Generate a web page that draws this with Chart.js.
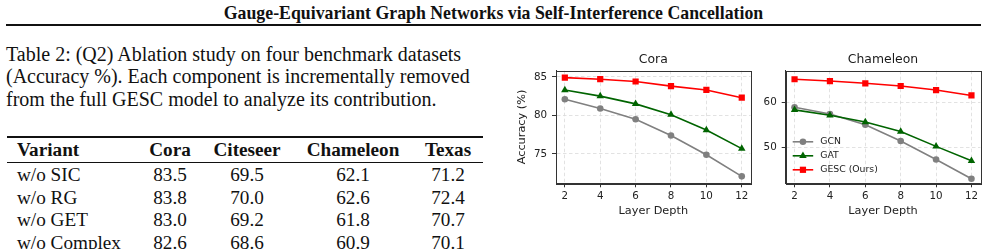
<!DOCTYPE html>
<html>
<head>
<meta charset="utf-8">
<script src="https://cdn.jsdelivr.net/npm/chart.js@4.4.1/dist/chart.umd.min.js"></script>
<style>
  html, body { margin: 0; padding: 0; background: #fff; }
  body { width: 987px; height: 249px; overflow: hidden; position: relative; font-family: "Liberation Serif", "DejaVu Serif", serif; color: #111; }
  .abs { position: absolute; white-space: nowrap; }
  #pageTitle { left: 0; width: 987px; top: 2px; text-align: center; font-weight: bold; font-size: 17.8px; line-height: 22px; }
  #rule { left: 6px; width: 975px; top: 24px; height: 2.4px; background: #111; }
  #caption { left: 6px; top: 42.6px; font-size: 20px; line-height: 22.5px; }
  .cell { position: absolute; font-size: 19.2px; line-height: 22px; white-space: nowrap; transform: translate(-50%, -50%); }
  .cell.left { transform: translate(0, -50%); }
  .hdr { font-weight: bold; }
  .trule { position: absolute; left: 7px; width: 476px; background: #111; }
  canvas { position: absolute; }
</style>
</head>
<body>
<div id="pageTitle" class="abs">Gauge-Equivariant Graph Networks via Self-Interference Cancellation</div>
<div id="rule" class="abs"></div>
<div id="caption" class="abs">Table 2: (Q2) Ablation study on four benchmark datasets<br>(Accuracy %). Each component is incrementally removed<br>from the full GESC model to analyze its contribution.</div>
<div id="table"></div>
<canvas id="cora" width="250" height="175" style="left:505px; top:50px; width:250px; height:175px;"></canvas>
<canvas id="cham" width="232" height="175" style="left:755px; top:50px; width:232px; height:175px;"></canvas>
<script>
// ---------- data ----------
const layerDepth = [2, 4, 6, 8, 10, 12];
const seriesNames = ["GCN", "GAT", "GESC (Ours)"];
const coraGCN  = [82.1, 80.9, 79.5, 77.4, 74.9, 72.1];
const coraGAT  = [83.3, 82.5, 81.5, 80.1, 78.1, 75.7];
const coraGESC = [84.9, 84.7, 84.4, 83.8, 83.3, 82.3];
const chamGCN  = [58.9, 57.4, 55.0, 51.4, 47.3, 43.0];
const chamGAT  = [58.3, 57.1, 55.6, 53.5, 50.2, 47.0];
const chamGESC = [65.1, 64.7, 64.2, 63.6, 62.7, 61.5];
const xTickLabels = [2, 4, 6, 8, 10, 12];
const coraYTicks = [75, 80, 85];
const chamYTicks = [50, 60];

const tableHeader = ["Variant", "Cora", "Citeseer", "Chameleon", "Texas"];
const tableVariants = ["w/o SIC", "w/o RG", "w/o GET", "w/o Complex"];
const tableCora = ["83.5", "83.8", "83.0", "82.6"];
const tableCiteseer = ["69.5", "70.0", "69.2", "68.6"];
const tableChameleon = ["62.1", "62.6", "61.8", "60.9"];
const tableTexas = ["71.2", "72.4", "70.7", "70.1"];

// ---------- table (HTML text) ----------
(function buildTable() {
  const t = document.getElementById('table');
  const colX = [17, 170, 247, 353, 448];
  const headerY = 149.5;
  const rowY = [175, 197.5, 220, 242.5];
  const add = (txt, x, y, cls) => {
    const d = document.createElement('div');
    d.className = 'cell ' + (cls || '');
    d.style.left = x + 'px'; d.style.top = y + 'px';
    d.textContent = txt; t.appendChild(d);
  };
  const rule = (y, h) => {
    const d = document.createElement('div');
    d.className = 'trule'; d.style.top = y + 'px'; d.style.height = h + 'px';
    t.appendChild(d);
  };
  rule(135.8, 1.8);
  rule(161.5, 1);
  tableHeader.forEach((h, i) => add(h, colX[i], headerY, 'hdr' + (i === 0 ? ' left' : '')));
  const cols = [tableVariants, tableCora, tableCiteseer, tableChameleon, tableTexas];
  tableVariants.forEach((_, r) => {
    cols.forEach((c, i) => add(c[r], colX[i], rowY[r], i === 0 ? 'left' : ''));
  });
})();

// ---------- charts ----------
const FONT = "'DejaVu Sans', sans-serif";
const styles = [
  { color: '#808080', pointStyle: 'circle', radius: 3.3, order: 3 },
  { color: '#006400', pointStyle: 'triangle', radius: 4.3, order: 2 },
  { color: '#ff0000', pointStyle: 'rect', radius: 4.4, order: 1 }
];

function makeDatasets(arrs) {
  return arrs.map((vals, i) => ({
    label: seriesNames[i],
    data: layerDepth.map((x, j) => ({ x: x, y: vals[j] })),
    borderColor: styles[i].color,
    backgroundColor: styles[i].color,
    borderWidth: 1.6,
    pointStyle: styles[i].pointStyle,
    pointRadius: styles[i].radius,
    pointBorderWidth: 0,
    pointBackgroundColor: styles[i].color,
    tension: 0,
    order: styles[i].order
  }));
}

const framePlugin = {
  id: 'frame',
  afterDraw(chart, args, opts) {
    const { ctx, chartArea: a } = chart;
    ctx.save();
    ctx.strokeStyle = '#333';
    ctx.lineWidth = 1;
    ctx.strokeRect(Math.round(a.left) + 0.5, Math.round(a.top) + 0.5, Math.round(a.right - a.left), Math.round(a.bottom - a.top));
    ctx.fillStyle = '#1a1a1a';
    ctx.font = '12.4px ' + FONT;
    ctx.textAlign = 'center';
    ctx.textBaseline = 'middle';
    ctx.fillText(opts.title, (a.left + a.right) / 2, opts.titleY);
    ctx.restore();
  }
};

const legendPlugin = {
  id: 'innerLegend',
  afterDatasetsDraw(chart, args, opts) {
    if (!opts.show) return;
    const { ctx, chartArea: a } = chart;
    ctx.save();
    const dsets = chart.data.datasets;
    dsets.forEach((ds, i) => {
      const y = a.bottom - 13.5 - (dsets.length - 1 - i) * 14;
      const x0 = a.left + 7, x1 = a.left + 27.5, xm = (x0 + x1) / 2;
      ctx.strokeStyle = ds.borderColor; ctx.lineWidth = ds.borderWidth;
      ctx.beginPath(); ctx.moveTo(x0, y); ctx.lineTo(x1, y); ctx.stroke();
      ctx.fillStyle = ds.borderColor;
      const r = ds.pointRadius;
      ctx.beginPath();
      if (ds.pointStyle === 'circle') { ctx.arc(xm, y, r, 0, Math.PI * 2); }
      else if (ds.pointStyle === 'rect') { const s = r * Math.SQRT1_2; ctx.rect(xm - s, y - s, 2 * s, 2 * s); }
      else { const s = r * 0.866; ctx.moveTo(xm, y - r); ctx.lineTo(xm + s, y + r / 2); ctx.lineTo(xm - s, y + r / 2); ctx.closePath(); }
      ctx.fill();
      ctx.fillStyle = '#222';
      ctx.font = '9.3px ' + FONT;
      ctx.textAlign = 'left'; ctx.textBaseline = 'middle';
      ctx.fillText(ds.label, a.left + 34.5, y);
    });
    ctx.restore();
  }
};

function makeChart(id, arrs, yMin, yMax, yTicks, cfg) {
  return new Chart(document.getElementById(id), {
    type: 'line',
    data: { datasets: makeDatasets(arrs) },
    plugins: [framePlugin, legendPlugin],
    options: {
      responsive: false,
      animation: false,
      devicePixelRatio: 1,
      layout: { padding: { top: cfg.padTop, right: cfg.padRight, left: 0, bottom: 0 } },
      plugins: {
        legend: { display: false },
        tooltip: { enabled: false },
        title: { display: false },
        frame: { title: cfg.title, titleY: 9.5 },
        innerLegend: { show: cfg.legend }
      },
      scales: {
        x: {
          type: 'linear', min: 1.5, max: 12.5,
          afterBuildTicks: s => { s.ticks = xTickLabels.map(v => ({ value: v })); },
          afterFit: s => { s.height = cfg.xHeight; },
          ticks: { color: '#222', font: { family: FONT, size: 10.3 }, padding: 3, maxRotation: 0, autoSkip: false },
          grid: { color: '#dadada', lineWidth: 0.8, tickColor: '#333', tickLength: 4, tickWidth: 1 },
          border: { color: '#333', width: 1, dash: [3.5, 2.5] },
          title: { display: true, text: 'Layer Depth', color: '#222', font: { family: FONT, size: 11.3 }, padding: { top: 0, bottom: 6.7 } }
        },
        y: {
          type: 'linear', min: yMin, max: yMax,
          afterBuildTicks: s => { s.ticks = yTicks.map(v => ({ value: v })); },
          afterFit: s => { s.width = cfg.yWidth; },
          ticks: { color: '#222', font: { family: FONT, size: 10.3 }, padding: 5 },
          grid: { color: '#dadada', lineWidth: 0.8, tickColor: '#333', tickLength: 4, tickWidth: 1 },
          border: { color: '#333', width: 1, dash: [3.5, 2.5] },
          title: { display: cfg.yTitle, text: 'Accuracy (%)', color: '#222', font: { family: FONT, size: 11.3 }, padding: { top: 10.7, bottom: 0 } }
        }
      }
    }
  });
}

makeChart('cora', [coraGCN, coraGAT, coraGESC], 71.2, 85.8, coraYTicks,
  { title: 'Cora', padTop: 20.7, padRight: 4, xHeight: 41.7, yWidth: 51, yTitle: true, legend: false });
makeChart('cham', [chamGCN, chamGAT, chamGESC], 42.0, 67.0, chamYTicks,
  { title: 'Chameleon', padTop: 20.7, padRight: 6.7, xHeight: 41.7, yWidth: 30.7, yTitle: false, legend: true });
</script>
</body>
</html>
